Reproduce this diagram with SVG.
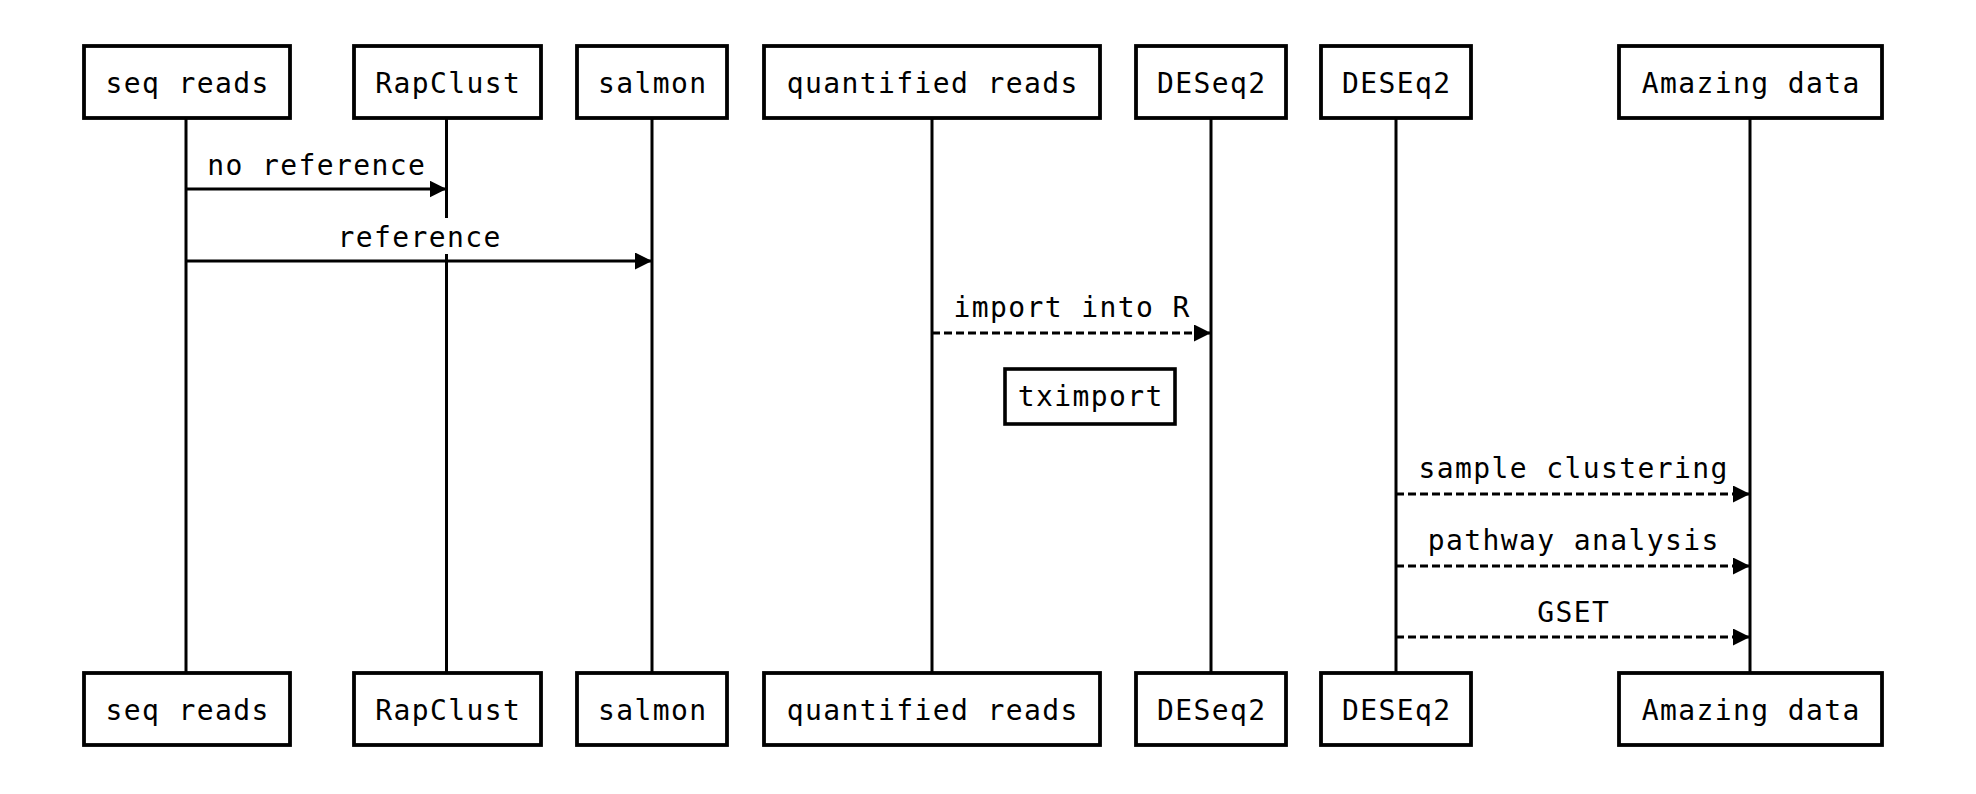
<svg xmlns="http://www.w3.org/2000/svg" width="1976" height="794" viewBox="0 0 1976 794">
  <defs>
    <marker id="head" markerUnits="userSpaceOnUse" markerWidth="17" markerHeight="17" refX="17" refY="8.5" orient="auto">
      <path d="M0,0 L17,8.5 L0,17 Z" fill="#000"/>
    </marker>
  </defs>
  <style>
    .actor rect { fill: #fff; stroke: #000; stroke-width: 3.8; }
    .note rect { fill: #fff; stroke: #000; stroke-width: 3.6; }
    text { font-family: "DejaVu Sans Mono", "Liberation Mono", monospace; font-size: 28px; letter-spacing: 1.4px; fill: #000; text-anchor: middle; }
    .life { stroke: #000; stroke-width: 3; }
    .msg { stroke: #000; stroke-width: 3; fill: none; marker-end: url(#head); }
    .dash { stroke-dasharray: 8 4; }
  </style>
  <rect width="1976" height="794" fill="#fff"/>

  <g id="lifelines">
    <line class="life" x1="186" y1="118" x2="186" y2="673"/>
    <line class="life" x1="446.5" y1="118" x2="446.5" y2="673"/>
    <line class="life" x1="652" y1="118" x2="652" y2="673"/>
    <line class="life" x1="932" y1="118" x2="932" y2="673"/>
    <line class="life" x1="1211" y1="118" x2="1211" y2="673"/>
    <line class="life" x1="1396" y1="118" x2="1396" y2="673"/>
    <line class="life" x1="1750" y1="118" x2="1750" y2="673"/>
  </g>

  <g id="actor-seqreads" class="actor">
    <rect x="84" y="46" width="206" height="72"/>
    <text x="187.7" y="93">seq reads</text>
    <rect x="84" y="673" width="206" height="72"/>
    <text x="187.7" y="720">seq reads</text>
  </g>
  <g id="actor-rapclust" class="actor">
    <rect x="354" y="46" width="187" height="72"/>
    <text x="448.2" y="93">RapClust</text>
    <rect x="354" y="673" width="187" height="72"/>
    <text x="448.2" y="720">RapClust</text>
  </g>
  <g id="actor-salmon" class="actor">
    <rect x="577" y="46" width="150" height="72"/>
    <text x="652.7" y="93">salmon</text>
    <rect x="577" y="673" width="150" height="72"/>
    <text x="652.7" y="720">salmon</text>
  </g>
  <g id="actor-quantified" class="actor">
    <rect x="764" y="46" width="336" height="72"/>
    <text x="932.7" y="93">quantified reads</text>
    <rect x="764" y="673" width="336" height="72"/>
    <text x="932.7" y="720">quantified reads</text>
  </g>
  <g id="actor-deseq2" class="actor">
    <rect x="1136" y="46" width="150" height="72"/>
    <text x="1211.7" y="93">DESeq2</text>
    <rect x="1136" y="673" width="150" height="72"/>
    <text x="1211.7" y="720">DESeq2</text>
  </g>
  <g id="actor-deseq2b" class="actor">
    <rect x="1321" y="46" width="150" height="72"/>
    <text x="1396.7" y="93">DESEq2</text>
    <rect x="1321" y="673" width="150" height="72"/>
    <text x="1396.7" y="720">DESEq2</text>
  </g>
  <g id="actor-amazing" class="actor">
    <rect x="1619" y="46" width="263" height="72"/>
    <text x="1751.2" y="93">Amazing data</text>
    <rect x="1619" y="673" width="263" height="72"/>
    <text x="1751.2" y="720">Amazing data</text>
  </g>

  <g id="note-tximport" class="note">
    <rect x="1005" y="369" width="170" height="55"/>
    <text x="1090.7" y="406">tximport</text>
  </g>

  <g id="connectors">
    <text x="316.7" y="175">no reference</text>
    <line class="msg" x1="186" y1="189" x2="446.5" y2="189"/>
    <rect x="336" y="218" width="168" height="36" fill="#fff"/>
    <text x="419.7" y="247">reference</text>
    <line class="msg" x1="186" y1="261" x2="652" y2="261"/>
    <text x="1072.2" y="317">import into R</text>
    <line class="msg dash" x1="932" y1="333" x2="1211" y2="333"/>
    <text x="1573.7" y="478">sample clustering</text>
    <line class="msg dash" x1="1396" y1="494" x2="1750" y2="494"/>
    <text x="1573.7" y="550">pathway analysis</text>
    <line class="msg dash" x1="1396" y1="566" x2="1750" y2="566"/>
    <text x="1573.7" y="622">GSET</text>
    <line class="msg dash" x1="1396" y1="637" x2="1750" y2="637"/>
  </g>
</svg>
